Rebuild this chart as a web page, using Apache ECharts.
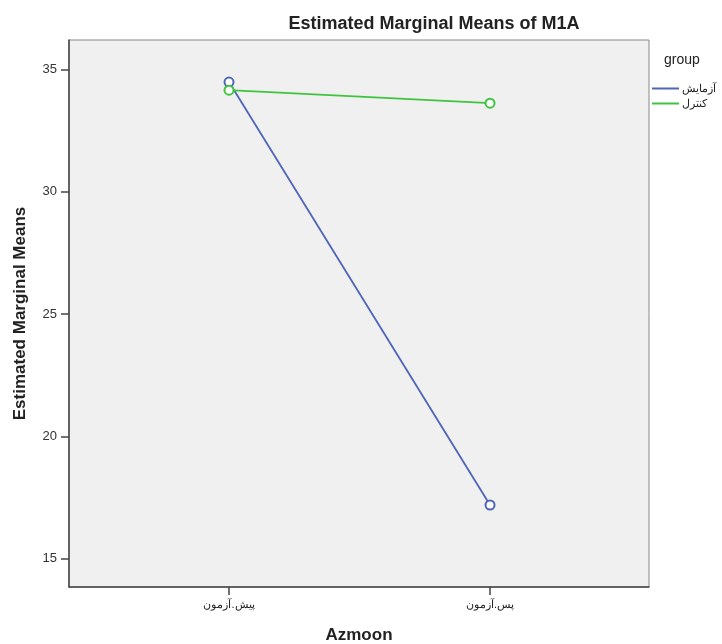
<!DOCTYPE html>
<html><head><meta charset="utf-8">
<script src="https://cdn.jsdelivr.net/npm/echarts@6/dist/echarts.min.js"></script>
<style>html,body{margin:0;padding:0;background:#fff}#c{width:722px;height:644px}</style>
</head><body><div id="c"></div>
<script>
const categories = ['پیش.آزمون', 'پس.آزمون'];
const groupNames = ['آزمایش', 'کنترل'];
const experimentValues = [34.48, 17.2];
const controlValues = [34.15, 33.62];
const yTicks = [15, 20, 25, 30, 35];

const chart = echarts.init(document.getElementById('c'));
const toPts = vals => vals.map((v, i) => [i, v]);
chart.setOption({
  animation: false,
  title: {
    text: 'Estimated Marginal Means of M1A', left: 429, top: 10, textAlign: 'center',
    textStyle: {fontFamily: 'Liberation Sans', fontSize: 18, fontWeight: 'bold', color: '#222'}
  },
  grid: {left: 69, right: 73, top: 40, bottom: 57, outerBoundsMode: 'none', containLabel: false,
    show: true, backgroundColor: '#f0f0f0', borderColor: '#888', borderWidth: 1},
  legend: {
    orient: 'vertical', left: 652, top: 83, padding: 0, itemWidth: 27, itemHeight: 2, itemGap: 4, icon: 'rect',
    data: groupNames,
    textStyle: {fontFamily: 'Liberation Sans', fontSize: 11, color: '#222', padding: [0,0,0,-2]}
  },
  graphic: [{type: 'text', left: 664, top: 53, style: {text: 'group', fontFamily: 'Liberation Sans', fontSize: 14, fill: '#222'}}],
  xAxis: {
    type: 'value', min: -0.613, max: 1.609, interval: 1,
    name: 'Azmoon', nameLocation: 'middle', nameGap: 40,
    nameTextStyle: {fontFamily: 'Liberation Sans', fontSize: 17, fontWeight: 'bold', color: '#222'},
    axisLine: {show: true, onZero: false, lineStyle: {color: '#444', width: 1.5}},
    axisTick: {show: true, length: 8, lineStyle: {color: '#444', width: 1.5},
      customValues: [0, 1]},
    axisLabel: {customValues: [0, 1], formatter: v => categories[Math.round(v)] || '',
      fontFamily: 'Liberation Sans', fontSize: 11, color: '#222', margin: 12},
    splitLine: {show: false}
  },
  yAxis: {
    type: 'value', min: 13.85, max: 36.2,
    name: 'Estimated Marginal Means', nameLocation: 'middle', nameGap: 40, nameRotate: 90,
    nameTextStyle: {fontFamily: 'Liberation Sans', fontSize: 17, fontWeight: 'bold', color: '#222'},
    axisLine: {show: true, onZero: false, lineStyle: {color: '#444', width: 1.5}},
    axisTick: {show: true, length: 8, lineStyle: {color: '#444', width: 1.5}, customValues: yTicks},
    axisLabel: {customValues: yTicks, fontFamily: 'Liberation Sans', fontSize: 13, color: '#333', margin: 12},
    splitLine: {show: false}
  },
  series: [
    {name: groupNames[0], type: 'line', data: toPts(experimentValues), symbol: 'emptyCircle', symbolSize: 9,
      lineStyle: {color: '#4f65b8', width: 1.8}, itemStyle: {color: '#4f65b8', borderWidth: 1.5}, color: '#4f65b8'},
    {name: groupNames[1], type: 'line', data: toPts(controlValues), symbol: 'emptyCircle', symbolSize: 9,
      lineStyle: {color: '#3fc43f', width: 1.8}, itemStyle: {color: '#3fc43f', borderWidth: 1.5}, color: '#3fc43f'}
  ]
});
</script></body></html>
